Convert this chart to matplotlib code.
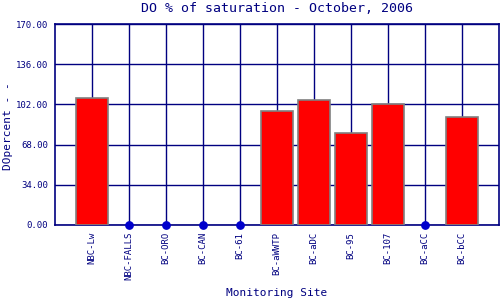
import matplotlib
matplotlib.use("Agg")
import matplotlib.pyplot as plt
import numpy as np

sites = ["NBC-Lw", "NBC-FALLS", "BC-ORO", "BC-CAN", "BC-61", "BC-aWWTP",
         "BC-aDC", "BC-95", "BC-107", "BC-aCC", "BC-bCC"]
values = [107.2, 0, 0, 0, 0, 96.4, 105.7, 77.6, 102.1, 0, 91.1]
yticks = [0, 34, 68, 102, 136, 170]

navy = "#000080"
plt.rcParams['font.family'] = ['DejaVu Sans Mono']

fig = plt.figure(figsize=(5, 3), dpi=100)
ax = fig.add_axes([55/500, 75/300, 444/500, 201/300])

x = np.arange(len(sites))
vals = np.array(values)
mask = vals > 0
ax.bar(x[mask], vals[mask], width=0.86, color="#ff0000", edgecolor="#808080",
       linewidth=1.2, zorder=3)
ax.scatter(x[~mask], vals[~mask], s=28, color="#0000cc", zorder=4, clip_on=False)

ax.set_xlim(-1, len(sites))
ax.set_ylim(0, 170)
ax.set_yticks(yticks)
ax.set_yticklabels([f"{v:.2f}" for v in yticks], fontsize=6.5, color=navy)
ax.set_xticks(x)
ax.set_xticklabels(sites, rotation=90, fontsize=6.5, color=navy)
ax.tick_params(length=0, pad=5)
ax.grid(True, color=navy, linewidth=1, zorder=0)
ax.set_axisbelow(True)
for s in ax.spines.values():
    s.set_color(navy)
    s.set_linewidth(1.2)

fig.text(277/500, 1 - 9/300, "DO % of saturation - October, 2006", ha="center",
         va="center", fontsize=9.5, color=navy)
fig.text(277/500, 1 - 293/300, "Monitoring Site", ha="center", va="center",
         fontsize=8, color=navy)
fig.text(8/500, 1 - 126/300, "DOpercent - -", ha="center", va="center",
         rotation=90, fontsize=8, color=navy)

fig.savefig("out.png", dpi=100)
